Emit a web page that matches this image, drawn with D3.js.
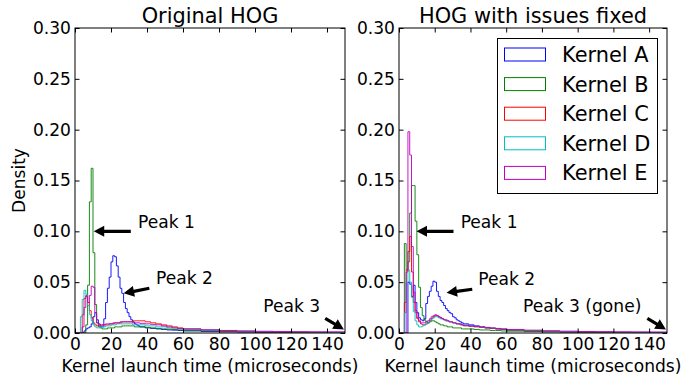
<!DOCTYPE html>
<html>
<head>
<meta charset="utf-8">
<script src="https://cdn.jsdelivr.net/npm/d3@7"></script>
<style>
  body { margin: 0; background: #fff; }
  svg { display: block; font-family: "DejaVu Sans", sans-serif; }
</style>
</head>
<body>
<div id="chart"></div>
<script>
// bin edges: 1 us bins up to 36, 3 us bins up to 60, then 10 us bins up to 150
const binEdges = [...d3.range(0, 36), ...d3.range(36, 60, 3), ...d3.range(60, 151, 10)];

const kernelNames = ["Kernel A", "Kernel B", "Kernel C", "Kernel D", "Kernel E"];
const kernelColors = ["#0000ff", "#008000", "#ff0000", "#00bfbf", "#bf00bf"];
const panelTitles = ["Original HOG", "HOG with issues fixed"];
const xTicks = [0, 20, 40, 60, 80, 100, 120, 140];
const yTicks = [0, 0.05, 0.10, 0.15, 0.20, 0.25, 0.30];

// Original HOG
const origA = [0, 0, 0, 0, 0, 0.002, 0.004, 0.005, 0.006, 0.009, 0.016, 0.02, 0.013, 0.009, 0.006, 0.006,
  0.014, 0.03, 0.044, 0.055, 0.07, 0.076, 0.075, 0.066, 0.055, 0.044, 0.039, 0.03, 0.024, 0.02, 0.016, 0.013, 0.011, 0.009, 0.008, 0.007,
  0.006, 0.005, 0.0045, 0.004, 0.0035, 0.003, 0.0028, 0.0025,
  0.002, 0.0015, 0.0011, 0.0009, 0.0007, 0.0005, 0.0004, 0.0003, 0.0003];
const origB = [0, 0, 0, 0, 0, 0, 0.008, 0.047, 0.129, 0.162, 0.079, 0.028, 0.01, 0.006, 0.005, 0.004,
  0.004, 0.004, 0.005, 0.005, 0.005, 0.005, 0.006, 0.006, 0.006, 0.006, 0.007, 0.007, 0.007, 0.007, 0.007, 0.007, 0.007, 0.006, 0.006, 0.006,
  0.006, 0.0055, 0.005, 0.0045, 0.004, 0.0038, 0.0035, 0.003,
  0.0025, 0.002, 0.0015, 0.0012, 0.001, 0.0008, 0.0006, 0.0005, 0.0004];
const origC = [0, 0, 0, 0, 0.018, 0.034, 0.037, 0.03, 0.022, 0.015, 0.01, 0.008, 0.007, 0.007, 0.007, 0.008,
  0.008, 0.008, 0.008, 0.009, 0.009, 0.009, 0.01, 0.01, 0.01, 0.01, 0.011, 0.011, 0.011, 0.011, 0.011, 0.011, 0.012, 0.012, 0.012, 0.012,
  0.012, 0.011, 0.01, 0.009, 0.008, 0.007, 0.006, 0.005,
  0.004, 0.003, 0.002, 0.0015, 0.001, 0.0008, 0.0006, 0.0005, 0.0004];
const origD = [0, 0, 0, 0.016, 0.033, 0.042, 0.038, 0.027, 0.018, 0.012, 0.008, 0.006, 0.005, 0.005, 0.006, 0.006,
  0.006, 0.007, 0.007, 0.007, 0.008, 0.008, 0.008, 0.009, 0.009, 0.009, 0.009, 0.009, 0.009, 0.009, 0.009, 0.009, 0.008, 0.008, 0.008, 0.008,
  0.008, 0.007, 0.007, 0.006, 0.006, 0.005, 0.005, 0.004,
  0.0035, 0.003, 0.0025, 0.002, 0.0015, 0.0012, 0.001, 0.0008, 0.0006];
const origE = [0, 0, 0, 0, 0.006, 0.025, 0.036, 0.03, 0.037, 0.046, 0.045, 0.02, 0.01, 0.008, 0.008, 0.008,
  0.008, 0.009, 0.009, 0.009, 0.009, 0.01, 0.01, 0.01, 0.01, 0.011, 0.011, 0.011, 0.011, 0.011, 0.011, 0.011, 0.01, 0.01, 0.01, 0.01,
  0.0095, 0.009, 0.0085, 0.008, 0.007, 0.006, 0.005, 0.0045,
  0.004, 0.003, 0.0025, 0.002, 0.0017, 0.0015, 0.0013, 0.0012, 0.0012];

// HOG with issues fixed
const fixedA = [0, 0, 0, 0, 0, 0.05, 0.048, 0.036, 0.047, 0.03, 0.02, 0.015, 0.013, 0.012, 0.014, 0.029,
  0.036, 0.041, 0.046, 0.051, 0.05, 0.041, 0.036, 0.032, 0.03, 0.027, 0.024, 0.022, 0.02, 0.019, 0.016, 0.015, 0.013, 0.012, 0.011, 0.01,
  0.009, 0.008, 0.007, 0.006, 0.005, 0.0045, 0.004, 0.0035,
  0.0028, 0.002, 0.0015, 0.0011, 0.0008, 0.0006, 0.0005, 0.0004, 0.0003];
const fixedB = [0, 0, 0, 0.088, 0.062, 0.07, 0.118, 0.145, 0.145, 0.11, 0.077, 0.045, 0.025, 0.017, 0.013, 0.011,
  0.01, 0.011, 0.012, 0.012, 0.011, 0.01, 0.009, 0.008, 0.008, 0.007, 0.007, 0.006, 0.006, 0.006, 0.005, 0.005, 0.005, 0.005, 0.005, 0.004,
  0.004, 0.004, 0.0035, 0.003, 0.003, 0.0025, 0.0025, 0.002,
  0.0018, 0.0014, 0.001, 0.0008, 0.0006, 0.0005, 0.0004, 0.0003, 0.0003];
const fixedC = [0, 0, 0, 0.03, 0.062, 0.08, 0.095, 0.06, 0.03, 0.02, 0.014, 0.011, 0.009, 0.008, 0.008, 0.009,
  0.01, 0.012, 0.014, 0.016, 0.017, 0.017, 0.016, 0.015, 0.014, 0.013, 0.012, 0.012, 0.011, 0.011, 0.01, 0.01, 0.009, 0.009, 0.008, 0.008,
  0.007, 0.0065, 0.006, 0.0055, 0.005, 0.0045, 0.004, 0.0035,
  0.003, 0.0022, 0.0016, 0.0012, 0.001, 0.0008, 0.0006, 0.0005, 0.0004];
const fixedD = [0, 0, 0, 0.02, 0.05, 0.062, 0.05, 0.035, 0.021, 0.012, 0.008, 0.006, 0.006, 0.007, 0.008, 0.009,
  0.01, 0.012, 0.014, 0.015, 0.016, 0.016, 0.015, 0.014, 0.014, 0.013, 0.012, 0.012, 0.011, 0.011, 0.01, 0.01, 0.009, 0.009, 0.009, 0.008,
  0.008, 0.007, 0.0065, 0.006, 0.0055, 0.005, 0.0045, 0.004,
  0.0032, 0.0025, 0.002, 0.0015, 0.0012, 0.001, 0.0008, 0.0007, 0.0006];
const fixedE = [0, 0, 0, 0, 0.06, 0.198, 0.175, 0.085, 0.04, 0.022, 0.015, 0.012, 0.01, 0.01, 0.01, 0.011,
  0.012, 0.014, 0.016, 0.017, 0.018, 0.017, 0.016, 0.015, 0.014, 0.013, 0.013, 0.012, 0.011, 0.011, 0.01, 0.01, 0.009, 0.009, 0.009, 0.008,
  0.0075, 0.007, 0.0065, 0.006, 0.0055, 0.005, 0.0045, 0.004,
  0.0035, 0.0028, 0.0022, 0.0018, 0.0015, 0.0013, 0.0012, 0.0011, 0.001];

// annotations in data units: text position and arrow from -> to
const origNotes = [
  {text: "Peak 1", at: [35, 0.103], from: [31, 0.10], to: [10.4, 0.10]},
  {text: "Peak 2", at: [45, 0.048], from: [41.3, 0.044], to: [27, 0.039]},
  {text: "Peak 3", at: [104.6, 0.021], from: [139, 0.0145], to: [149.4, 0.0035]}
];
const fixedNotes = [
  {text: "Peak 1", at: [34.5, 0.103], from: [30.5, 0.10], to: [9.8, 0.10]},
  {text: "Peak 2", at: [44.4, 0.047], from: [41, 0.043], to: [26.6, 0.0395]},
  {text: "Peak 3 (gone)", at: [69.4, 0.021], from: [139, 0.0145], to: [149.4, 0.0035]}
];

const width = 696, height = 377;
const plotTop = 28, plotBottom = 333;
const smallFont = "17.1px", bigFont = "20.9px";
const panels = [
  {left: 75, right: 345, series: [origA, origB, origC, origD, origE], notes: origNotes, legend: false},
  {left: 399, right: 667, series: [fixedA, fixedB, fixedC, fixedD, fixedE], notes: fixedNotes, legend: true}
];

const svg = d3.select("#chart").append("svg")
    .attr("width", width)
    .attr("height", height);

svg.append("rect").attr("width", width).attr("height", height).attr("fill", "#fff");

const y = d3.scaleLinear().domain([0, 0.3]).range([plotBottom, plotTop]);

function stepPoints(values) {
    const pts = [[binEdges[0], 0]];
    values.forEach((v, i) => {
        pts.push([binEdges[i], v]);
        pts.push([binEdges[i + 1], v]);
    });
    pts.push([binEdges[binEdges.length - 1], 0]);
    return pts;
}

function arrowShape(x0, y0, x1, y1) {
    // thick black arrow like matplotlib's annotate arrow
    const dx = x1 - x0, dy = y1 - y0;
    const len = Math.sqrt(dx * dx + dy * dy);
    const ux = dx / len, uy = dy / len, nx = -uy, ny = ux;
    const hl = 10.5, hw = 5.5, sw = 1.6;
    const bx = x1 - ux * hl, by = y1 - uy * hl;
    const p = [
        [x0 + nx * sw, y0 + ny * sw],
        [bx + nx * sw, by + ny * sw],
        [bx + nx * hw, by + ny * hw],
        [x1, y1],
        [bx - nx * hw, by - ny * hw],
        [bx - nx * sw, by - ny * sw],
        [x0 - nx * sw, y0 - ny * sw]
    ];
    return "M" + p.map(d => d.join(",")).join("L") + "Z";
}

panels.forEach((panel, pi) => {
    const x = d3.scaleLinear().domain([0, 150]).range([panel.left, panel.right]);
    const g = svg.append("g");

    const clipId = "clip" + pi;
    svg.append("clipPath").attr("id", clipId)
        .append("rect")
        .attr("x", panel.left).attr("y", plotTop)
        .attr("width", panel.right - panel.left).attr("height", plotBottom - plotTop);

    const line = d3.line().x(d => x(d[0])).y(d => y(d[1]));

    g.append("g")
        .attr("clip-path", `url(#${clipId})`)
        .selectAll("path")
        .data(panel.series)
        .join("path")
        .attr("d", d => line(stepPoints(d)))
        .attr("fill", "none")
        .attr("stroke", (d, i) => kernelColors[i])
        .attr("stroke-width", 1)
        .attr("stroke-opacity", 0.9);

    // axes, ticks pointing inwards on all four sides
    const xAxis = d3.axisBottom(x).tickValues(xTicks).tickSizeInner(-4.5).tickSizeOuter(0).tickPadding(5);
    const xAxisTop = d3.axisTop(x).tickValues(xTicks).tickSizeInner(-4.5).tickSizeOuter(0).tickFormat("");
    const yAxis = d3.axisLeft(y).tickValues(yTicks).tickSizeInner(-4.5).tickSizeOuter(0).tickPadding(4).tickFormat(d3.format(".2f"));
    const yAxisRight = d3.axisRight(y).tickValues(yTicks).tickSizeInner(-4.5).tickSizeOuter(0).tickFormat("");

    g.append("g").attr("class", "axis").attr("transform", `translate(0,${plotBottom})`).call(xAxis);
    g.append("g").attr("class", "axis").attr("transform", `translate(0,${plotTop})`).call(xAxisTop);
    g.append("g").attr("class", "axis").attr("transform", `translate(${panel.left},0)`).call(yAxis);
    g.append("g").attr("class", "axis").attr("transform", `translate(${panel.right},0)`).call(yAxisRight);

    g.selectAll(".axis > path").style("display", "none");
    g.selectAll(".axis text")
        .attr("fill", "#000")
        .style("font-family", "DejaVu Sans")
        .style("font-size", smallFont);

    g.append("rect")
        .attr("x", panel.left).attr("y", plotTop)
        .attr("width", panel.right - panel.left).attr("height", plotBottom - plotTop)
        .attr("fill", "none").attr("stroke", "#000").attr("stroke-width", 1);

    g.append("text")
        .attr("x", (panel.left + panel.right) / 2).attr("y", 23)
        .attr("text-anchor", "middle")
        .style("font-size", bigFont)
        .text(panelTitles[pi]);

    g.append("text")
        .attr("x", (panel.left + panel.right) / 2).attr("y", 372)
        .attr("text-anchor", "middle")
        .style("font-size", smallFont)
        .text("Kernel launch time (microseconds)");

    // annotations
    panel.notes.forEach(n => {
        g.append("text")
            .attr("x", x(n.at[0])).attr("y", y(n.at[1]))
            .style("font-size", smallFont)
            .text(n.text);
        g.append("path")
            .attr("d", arrowShape(x(n.from[0]), y(n.from[1]), x(n.to[0]), y(n.to[1])))
            .attr("fill", "#000");
    });

    if (panel.legend) {
        const lg = g.append("g");
        lg.append("rect")
            .attr("x", 497.5).attr("y", 38.5).attr("width", 160).attr("height", 155)
            .attr("fill", "#fff").attr("stroke", "#000");
        const rows = lg.selectAll("g.row")
            .data(kernelNames)
            .join("g")
            .attr("class", "row")
            .attr("transform", (d, i) => `translate(0,${54.5 + i * 29.6})`);
        rows.append("rect")
            .attr("x", 504.5).attr("y", -6.5).attr("width", 41).attr("height", 13)
            .attr("fill", "none")
            .attr("stroke", (d, i) => kernelColors[i]);
        rows.append("text")
            .attr("x", 562).attr("y", 0).attr("dy", "0.36em")
            .style("font-size", bigFont)
            .text(d => d);
    }
});

svg.append("text")
    .attr("transform", "translate(25,180.5) rotate(-90)")
    .attr("text-anchor", "middle")
    .style("font-size", smallFont)
    .text("Density");
</script>
</body>
</html>
